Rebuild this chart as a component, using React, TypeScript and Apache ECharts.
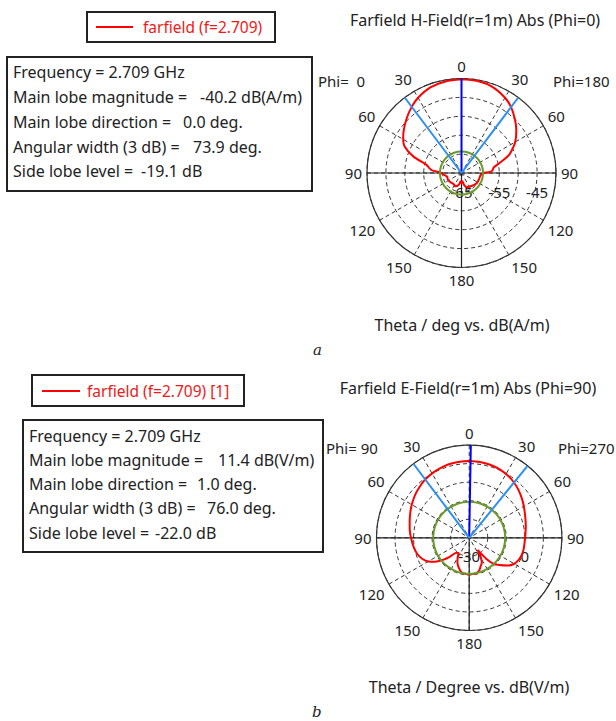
import React, { useEffect, useRef } from "react";
import * as echarts from "echarts";

// ---------- data (theta in degrees, clockwise from top; values in dB) ----------
const thetaA = [0, 10, 20, 30, 37, 45, 52, 60, 66, 70, 75, 80, 85, 88, 90, 93, 100, 110, 125, 140, 150, 160, 168, 174, 180, 186, 193, 205, 215, 230, 245, 255, 263, 268, 272, 275, 278, 283, 289, 295, 301, 307, 315, 323, 330, 340, 350, 360];
const dbA = [-40.2, -40.3, -40.8, -42.0, -43.2, -45.0, -46.6, -48.6, -50.5, -51.9, -54.5, -56.3, -56.8, -57.5, -59.4, -59.7, -60.0, -60.1, -60.2, -60.6, -60.9, -61.0, -61.8, -62.8, -62.3, -62.8, -61.8, -61.1, -61.4, -61.2, -61.0, -61.1, -60.5, -59.8, -59.3, -57.2, -56.5, -55.5, -51.5, -48.4, -47.0, -45.9, -44.5, -43.1, -42.0, -40.9, -40.4, -40.2];

const thetaB = [0, 8, 16, 24, 32, 39, 46, 54, 62, 70, 78, 86, 94, 102, 108, 114, 120, 126, 132, 137, 141, 145, 149, 153, 158, 163, 168, 175, 180, 185, 192, 198, 205, 210, 215, 220, 226, 230, 235, 240, 246, 252, 260, 270, 278, 286, 294, 302, 310, 318, 324, 332, 340, 348, 356, 360];
const dbB = [11.4, 11.3, 11.0, 10.4, 9.5, 8.4, 7.0, 5.3, 3.6, 2.2, 1.2, 0.4, 0.0, 0.0, -0.2, -0.8, -2.0, -4.5, -8.0, -11.0, -15.5, -22.0, -18.0, -15.0, -13.5, -11.5, -10.6, -10.4, -10.3, -10.4, -10.8, -12.5, -15.0, -17.5, -20.0, -19.5, -15.0, -11.5, -7.5, -4.5, -2.2, -0.8, 0.3, 1.4, 2.4, 3.4, 4.7, 6.1, 7.5, 8.7, 9.5, 10.3, 10.9, 11.2, 11.4, 11.4];

// radius scales and tick labels
const radiusA = { min: -65, max: -40, step: 5 };
const radiusB = { min: -30, max: 20, step: 10 };
const radiusLabelsA = [-65, -55, -45];
const radiusLabelsB = [-30, 0];

// main lobe / beamwidth / side lobe
const mainDirA = 0.0, widthA = 73.9, mainMagA = -40.2, sllA = -19.1;
const mainDirB = 1.0, widthB = 76.0, mainMagB = 11.4, sllB = -22.0;

const infoA = [
  ["Frequency = 2.709 GHz", ""],
  ["Main lobe magnitude =", "-40.2 dB(A/m)"],
  ["Main lobe direction =", "0.0 deg."],
  ["Angular width (3 dB) =", "73.9 deg."],
  ["Side lobe level =", "-19.1 dB"],
];
const infoB = [
  ["Frequency = 2.709 GHz", ""],
  ["Main lobe magnitude =", "11.4 dB(V/m)"],
  ["Main lobe direction =", "1.0 deg."],
  ["Angular width (3 dB) =", "76.0 deg."],
  ["Side lobe level =", "-22.0 dB"],
];

const FONT = "Noto Sans";
const toV = (t: number) => (((t - 90) % 360) + 360) % 360;

function polarSeries(idx: number, thetas: number[], dbs: number[], r: { min: number; max: number }, mainDir: number, width: number, sll: number) {
  const red = thetas.map((t, i) => [dbs[i], toV(t)]);
  const circ: number[][] = [];
  for (let a = 0; a <= 360; a += 10) circ.push([sll, a]);
  const base = { type: "line", coordinateSystem: "polar", polarIndex: idx, showSymbol: false, symbol: "none", silent: true, clip: false };
  return [
    { ...base, z: 1, data: [[r.max, toV(90)], [r.min, toV(90)], [r.max, toV(270)]], lineStyle: { color: "#222", width: 1.2 } },
    { ...base, z: 1, data: [[r.min, toV(180)], [r.max, toV(180)]], lineStyle: { color: "#222", width: 1.2 } },
    { ...base, z: 3, smooth: 0.3, data: red, lineStyle: { color: "#ff0000", width: 2 } },
    { ...base, z: 4, smooth: true, data: circ, lineStyle: { color: "#6b9a2a", width: 2 } },
    { ...base, z: 5, data: [[r.min, toV(mainDir)], [r.max, toV(mainDir)]], lineStyle: { color: "#0000ff", width: 2 } },
    { ...base, z: 5, data: [[r.max, toV(mainDir - width / 2)], [r.min, 0], [r.max, toV(mainDir + width / 2)]], lineStyle: { color: "#2f8ff0", width: 2 } },
  ];
}

function axes(idx: number, r: { min: number; max: number; step: number }, labels: number[]) {
  const angle = {
    polarIndex: idx, type: "value", min: 0, max: 360, interval: 30, startAngle: 0, clockwise: true,
    axisLine: { show: true, lineStyle: { color: "#333", width: 1.2 } },
    axisTick: { show: false },
    axisLabel: {
      margin: 5, color: "#222", fontSize: 15, fontFamily: FONT,
      formatter: (v: number) => { const t = (v + 90) % 360; return String(t > 180 ? 360 - t : t); },
    },
    splitLine: { show: true, lineStyle: { type: [4, 3], color: "#333", width: 1 } },
  };
  const radius = {
    polarIndex: idx, type: "value", min: r.min, max: r.max, interval: r.step,
    axisLine: { show: false }, axisTick: { show: false },
    axisLabel: {
      margin: -26, color: "#222", fontSize: 15, fontFamily: FONT,
      formatter: (v: number) => (labels.indexOf(v) >= 0 ? String(v) : ""),
    },
    splitLine: { show: true, lineStyle: { type: [4, 3], color: "#333", width: 1 } },
  };
  return { angle, radius };
}

function txt(text: string, x: number, y: number, opts: any = {}) {
  return {
    type: "text", x, y, silent: true, z: 10,
    style: { text, fill: opts.fill || "#222", fontSize: opts.fontSize || 16, fontFamily: opts.fontFamily || FONT, fontStyle: opts.fontStyle || "normal", align: opts.align || "left", verticalAlign: "middle" },
  };
}

function infoBox(lines: string[][], x0: number, y0: number, w: number, h: number, tx: number, ys: number[], vx: number[]) {
  const els: any[] = [{ type: "rect", shape: { x: x0, y: y0, width: w, height: h }, style: { fill: "#fff", stroke: "#222", lineWidth: 2 }, z: 9 }];
  lines.forEach((l, i) => {
    els.push(txt(l[0], tx, ys[i]));
    if (l[1]) els.push(txt(l[1], vx[i], ys[i]));
  });
  return els;
}

export default function App() {
  const ref = useRef<HTMLDivElement>(null);
  useEffect(() => {
    if (!ref.current) return;
    const chart = echarts.init(ref.current, null, { renderer: "svg" });
    const a = axes(0, radiusA, radiusLabelsA);
    const b = axes(1, radiusB, radiusLabelsB);
    const graphic: any[] = [
      // plot a legend
      { type: "rect", shape: { x: 87, y: 12, width: 188, height: 30 }, style: { fill: "#fff", stroke: "#222", lineWidth: 2 }, z: 9 },
      { type: "line", shape: { x1: 96, y1: 27, x2: 133, y2: 27 }, style: { stroke: "#ff0000", lineWidth: 2 }, z: 10 },
      txt("farfield (f=2.709)", 143, 27, { fill: "#f01818", fontSize: 15.5 }),
      ...infoBox(infoA, 7, 57, 305, 134, 13, [72, 97, 122, 147, 171], [0, 200, 183, 193, 141]),
      txt("Farfield H-Field(r=1m) Abs (Phi=0)", 475, 20, { align: "center" }),
      txt("Phi=  0", 318, 81, { fontSize: 15 }),
      txt("Phi=180", 553, 81, { fontSize: 15 }),
      txt("Theta / deg vs. dB(A/m)", 462, 325, { align: "center" }),
      txt("a", 313, 350, { fontStyle: "italic", fontFamily: "DejaVu Serif", fontSize: 15 }),
      // plot b legend
      { type: "rect", shape: { x: 32, y: 375, width: 212, height: 31 }, style: { fill: "#fff", stroke: "#222", lineWidth: 2 }, z: 9 },
      { type: "line", shape: { x1: 42, y1: 391, x2: 80, y2: 391 }, style: { stroke: "#ff0000", lineWidth: 2 }, z: 10 },
      txt("farfield (f=2.709) [1]", 87, 391, { fill: "#f01818", fontSize: 15.5 }),
      ...infoBox(infoB, 23, 420, 300, 132, 29, [436, 460, 484, 508, 533], [0, 218, 197, 207, 155]),
      txt("Farfield E-Field(r=1m) Abs (Phi=90)", 468, 388, { align: "center" }),
      txt("Phi= 90", 326, 448, { fontSize: 15 }),
      txt("Phi=270", 558, 448, { fontSize: 15 }),
      txt("Theta / Degree vs. dB(V/m)", 469, 687, { align: "center" }),
      txt("b", 312, 712, { fontStyle: "italic", fontFamily: "DejaVu Serif", fontSize: 15 }),
    ];
    chart.setOption({
      animation: false,
      backgroundColor: "#fff",
      polar: [
        { center: [461.5, 173], radius: 94.5 },
        { center: [469.2, 537.8], radius: 92.7 },
      ],
      angleAxis: [a.angle, b.angle],
      radiusAxis: [a.radius, b.radius],
      series: [
        ...polarSeries(0, thetaA, dbA, radiusA, mainDirA, widthA, mainMagA + sllA),
        ...polarSeries(1, thetaB, dbB, radiusB, mainDirB, widthB, mainMagB + sllB),
      ],
      graphic,
    });
    return () => chart.dispose();
  }, []);
  return <div ref={ref} style={{ position: "absolute", left: 0, top: 0, width: 616, height: 721 }} />;
}
